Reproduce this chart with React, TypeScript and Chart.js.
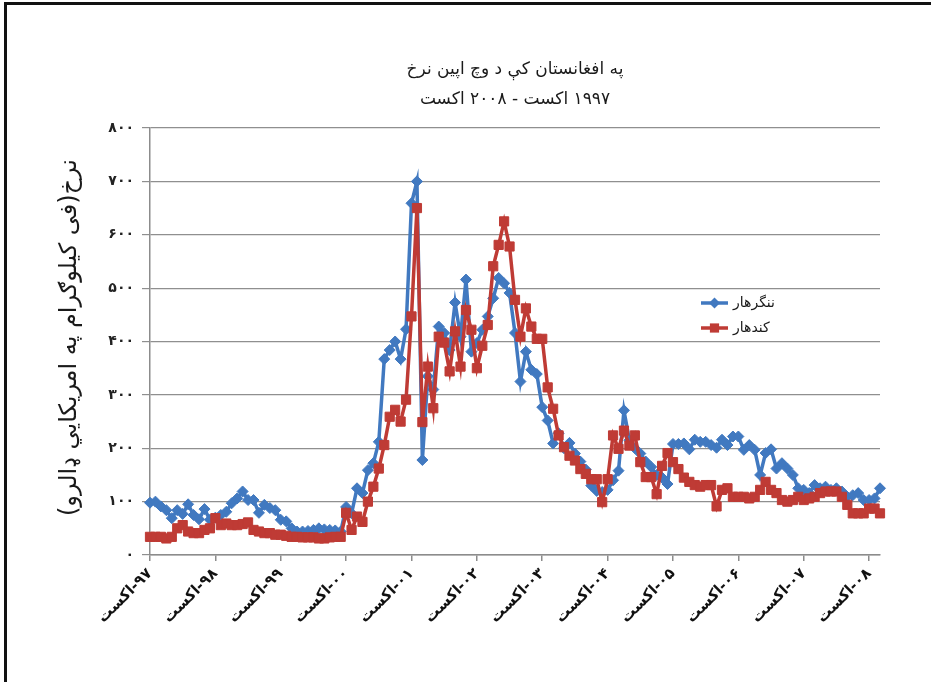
import React, { useEffect, useRef } from 'react';
import { Chart, registerables } from 'chart.js';

Chart.register(...registerables);

// ---------- data ----------
const titleLines = ['په افغانستان کې د وچ اپین نرخ', '۱۹۹۷ اکست - ۲۰۰۸ اکست'];
const yAxisTitle = 'نرخ(فی کیلوګرام په امریکایي ډالرو)';
const seriesNames = ['ننگرهار', 'کندهار'];

// one tick label per August (Aug 1997 .. Aug 2008): month name, year
const tickMonthName = 'اکست';
const tickYears = ['۹۷', '۹۸', '۹۹', '۰۰', '۰۱', '۰۲', '۰۳', '۰۴', '۰۵', '۰۶', '۰۷', '۰۸'];

const startYear = 1997;
const startMonth = 8; // August
const monthCount = 135; // Aug 1997 .. Oct 2008

// Nangarhar (USD / kg)
const nangarhar = [
  98, 100, 91, 84, 69, 84, 77, 95, 75, 67,
  86, 66, 70, 75, 81, 97, 106, 119, 103, 103,
  79, 94, 88, 84, 66, 63, 50, 44, 44, 45,
  47, 50, 48, 47, 46, 44,
  90, 78, 125, 116,
  159, 172, 212, 367, 384, 400, 367, 423, 659, 700,
  178, 335, 310, 428, 416, 384, 473, 409, 516, 381,
  397, 422, 447, 481, 519, 509, 491, 416, 325, 381,
  347, 339, 277, 252, 209, 228, 200, 210, 190, 175,
  160, 130, 120, 118, 122, 140, 158, 271, 215, 200,
  190, 175, 165, 150, 145, 133, 208, 208,
  209, 198, 216, 212, 212, 206, 201, 216, 206, 222,
  222, 197, 206, 197, 150, 191, 198, 162, 172, 162,
  150, 125, 122, 116, 131, 125, 128, 122, 125, 119,
  109, 112, 116, 103, 103, 106, 125,
];

// Kandahar (USD / kg)
const kandahar = [
  34, 34, 34, 31, 34, 50, 56, 44, 41, 41,
  47, 50, 69, 56, 59, 56, 56, 58, 61, 47,
  44, 41, 41, 38, 38, 36, 34, 34, 33, 33,
  33, 31, 31, 33, 34, 34,
  79, 47, 72, 62,
  100, 128, 162, 206, 259, 272, 250, 291, 447, 650,
  249, 353, 275, 409, 398, 344, 419, 353, 459, 422,
  350, 392, 431, 541, 581, 625, 578, 478, 409, 462,
  428, 405, 405, 314, 274, 224, 202, 186, 177, 161,
  152, 142, 142, 99, 142, 224, 199, 233, 205, 224,
  174, 146, 146, 114, 167, 191, 174, 161,
  145, 137, 131, 128, 131, 131, 91, 122, 125, 109,
  109, 109, 106, 109, 122, 137, 122, 116, 103, 100,
  103, 109, 103, 106, 109, 116, 119, 119, 119, 109,
  94, 78, 78, 78, 87, 87, 78,
];

const yMin = 0;
const yMax = 800;
const yStep = 100;

// ---------- helpers ----------
const FA_DIGITS = '۰۱۲۳۴۵۶۷۸۹';
const toFaDigits = (n: number) => String(n).replace(/[0-9]/g, (d) => FA_DIGITS[Number(d)]);

// visual order (left to right along the rotated baseline): month name, "-", year
const LRI = '\u2066';
const PDI = '\u2069';
const tickLabel = (i: number) => `${LRI}${tickMonthName}${PDI}-${LRI}${tickYears[i]}${PDI}`;

const monthLabels: string[] = [];
for (let i = 0; i < monthCount; i++) {
  const m = startMonth - 1 + i;
  const y = startYear + Math.floor(m / 12);
  monthLabels.push(`${y}-${String((m % 12) + 1).padStart(2, '0')}`);
}

const BLUE = '#4179C0';
const RED = '#BF3B35';
const FONT = '"DejaVu Sans", sans-serif';

const overlayPlugin = {
  id: 'overlay',
  afterDraw(chart: any) {
    const { ctx, chartArea } = chart;
    const cx = (chartArea.left + chartArea.right) / 2;
    ctx.save();
    ctx.fillStyle = '#1a1a1a';
    ctx.direction = 'rtl';
    ctx.textAlign = 'center';
    ctx.textBaseline = 'middle';
    ctx.font = `17px ${FONT}`;
    ctx.fillText(titleLines[0], cx, chartArea.top - 58);
    ctx.fillText(titleLines[1], cx, chartArea.top - 28);

    // y axis title
    ctx.save();
    ctx.translate(70, (chartArea.top + chartArea.bottom) / 2 - 4);
    ctx.rotate(-Math.PI / 2);
    ctx.font = `24px ${FONT}`;
    ctx.fillText(yAxisTitle, 0, 0);
    ctx.restore();

    // legend
    const lx = chartArea.left + 551;
    const ly = chartArea.top + 175;
    const colors = [BLUE, RED];
    for (let i = 0; i < seriesNames.length; i++) {
      const y = ly + i * 25;
      ctx.strokeStyle = colors[i];
      ctx.fillStyle = colors[i];
      ctx.lineWidth = 3.5;
      ctx.beginPath();
      ctx.moveTo(lx, y);
      ctx.lineTo(lx + 27, y);
      ctx.stroke();
      const mx = lx + 13.5;
      ctx.beginPath();
      if (i === 0) {
        const r = 5.5;
        ctx.moveTo(mx - r, y);
        ctx.lineTo(mx, y - r);
        ctx.lineTo(mx + r, y);
        ctx.lineTo(mx, y + r);
        ctx.closePath();
      } else {
        const s = 4.6;
        ctx.rect(mx - s, y - s, 2 * s, 2 * s);
      }
      ctx.fill();
      ctx.fillStyle = '#1a1a1a';
      ctx.textAlign = 'left';
      ctx.font = `14px ${FONT}`;
      ctx.fillText(seriesNames[i], lx + 32, y);
      ctx.textAlign = 'center';
    }
    ctx.restore();
  },
};

export default function App() {
  const canvasRef = useRef<HTMLCanvasElement | null>(null);

  useEffect(() => {
    if (!canvasRef.current) return;
    const chart = new Chart(canvasRef.current, {
      type: 'line',
      data: {
        labels: monthLabels,
        datasets: [
          {
            label: seriesNames[0],
            data: nangarhar,
            borderColor: BLUE,
            backgroundColor: BLUE,
            borderWidth: 3.5,
            pointStyle: 'rectRot',
            pointRadius: 5.5,
            pointBorderWidth: 1,
            pointBackgroundColor: BLUE,
            pointBorderColor: BLUE,
            tension: 0,
            order: 1,
          },
          {
            label: seriesNames[1],
            data: kandahar,
            borderColor: RED,
            backgroundColor: RED,
            borderWidth: 3.5,
            pointStyle: 'rect',
            pointRadius: 6.5,
            pointBorderWidth: 1,
            pointBackgroundColor: RED,
            pointBorderColor: RED,
            tension: 0,
            order: 0,
          },
        ],
      },
      options: {
        responsive: false,
        animation: false,
        devicePixelRatio: 1,
        layout: { padding: { top: 128, right: 51, left: 0, bottom: 0 } },
        plugins: {
          legend: { display: false },
          title: { display: false },
          tooltip: { enabled: false },
        },
        scales: {
          x: {
            type: 'category',
            offset: false,
            grid: {
              drawOnChartArea: false,
              drawTicks: true,
              tickLength: 6,
              color: '#8c8c8c',
              lineWidth: 1.5,
            },
            border: { display: true, color: '#8c8c8c', width: 1.5 },
            ticks: {
              autoSkip: false,
              maxRotation: 45,
              minRotation: 45,
              padding: 4,
              color: '#111',
              font: { family: FONT, size: 15, weight: 'bold' },
              callback: (_v: any, idx: number) => (idx % 12 === 0 ? tickLabel(idx / 12) : null),
            },
            afterFit: (scale: any) => {
              scale.height = 127;
            },
          },
          y: {
            min: yMin,
            max: yMax,
            grid: { color: '#8f8f8f', lineWidth: 1.2, tickLength: 8 },
            border: { display: true, color: '#8c8c8c', width: 1.5 },
            ticks: {
              stepSize: yStep,
              padding: 8,
              color: '#222',
              font: { family: FONT, size: 14, weight: 'bold' },
              callback: (v: any) => toFaDigits(Number(v)),
            },
            afterFit: (scale: any) => {
              scale.width = 150;
            },
          },
        },
      },
      plugins: [overlayPlugin],
    });
    return () => chart.destroy();
  }, []);

  return (
    <div style={{ position: 'fixed', left: 0, top: 0, width: 931, height: 682, background: '#fff' }}>
      <canvas ref={canvasRef} width={931} height={682} style={{ display: 'block' }} />
      <div
        style={{
          position: 'absolute',
          left: 4,
          top: 2,
          width: 927,
          height: 680,
          borderTop: '3px solid #111',
          borderLeft: '3px solid #111',
          boxSizing: 'border-box',
          pointerEvents: 'none',
        }}
      />
    </div>
  );
}
